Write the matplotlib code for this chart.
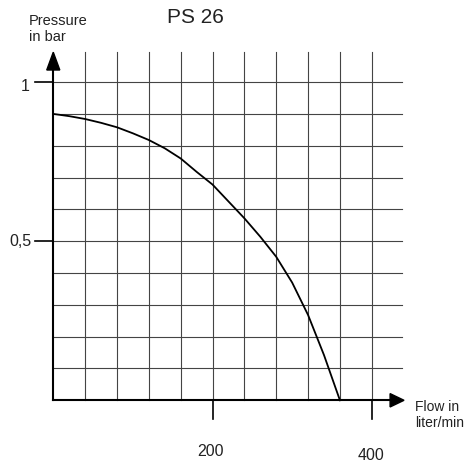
import matplotlib

matplotlib.use("Agg")
import matplotlib.pyplot as plt
from matplotlib.patches import Polygon

# values
flow = [0, 20, 40, 60, 80, 100, 120, 140, 160, 180, 200, 220, 240, 260, 280, 300, 320, 340, 360]
pressure = [0.90, 0.893, 0.884, 0.872, 0.858, 0.839, 0.818, 0.792, 0.760, 0.718, 0.678,
            0.625, 0.572, 0.514, 0.451, 0.370, 0.268, 0.142, 0.0]

grid_x = [40, 80, 120, 160, 200, 240, 280, 320, 360, 400]
grid_y = [0.1, 0.2, 0.3, 0.4, 0.5, 0.6, 0.7, 0.8, 0.9, 1.0]
x_ticks = [200, 400]
x_tick_labels = ["200", "400"]
y_ticks = [1.0, 0.5]
y_tick_labels = ["1", "0,5"]

plt.rcParams["font.family"] = ["Liberation Sans", "DejaVu Sans"]
TEXT = "#222222"

fig = plt.figure(figsize=(4.69, 4.66), dpi=100)
ax = fig.add_axes([0, 0, 1, 1])
ax.set_xlim(-66.9, 522.1)
ax.set_ylim(-0.2065, 1.258)
ax.set_axis_off()

# grid
for gx in grid_x:
    ax.plot([gx, gx], [0, 1.095], color="#444444", lw=0.8, zorder=1)
for gy in grid_y:
    ax.plot([0, 438], [gy, gy], color="#444444", lw=0.8, zorder=1)

# axes with arrow heads
ax.plot([0, 0], [0, 1.045], color="black", lw=1.5, zorder=3)
ax.plot([0, 428], [0, 0], color="black", lw=1.5, zorder=3)
ax.add_patch(Polygon([[-8.2, 1.038], [8.2, 1.038], [0, 1.094]], closed=True,
                     color="black", zorder=4))
ax.add_patch(Polygon([[423, 0.021], [423, -0.021], [440.5, 0]], closed=True,
                     color="black", zorder=4))

# ticks
for xt in x_ticks:
    ax.plot([xt, xt], [0, -0.059], color="black", lw=1.2, zorder=3)
for yt in y_ticks:
    ax.plot([-23, 0], [yt, yt], color="black", lw=1.2, zorder=3)

# curve
ax.plot(flow, pressure, color="black", lw=1.3, zorder=5, solid_joinstyle="round")

# labels
ax.text(198, -0.1625, x_tick_labels[0], ha="center", va="center", fontsize=11.5, color=TEXT)
ax.text(399, -0.172, x_tick_labels[1], ha="center", va="center", fontsize=11.5, color=TEXT)
ax.text(-35.5, 0.985, y_tick_labels[0], ha="center", va="center", fontsize=11.5, color=TEXT)
ax.text(-41.8, 0.4975, y_tick_labels[1], ha="center", va="center", fontsize=11.5, color=TEXT)

ax.text(178, 1.2015, "PS 26", ha="center", va="center", fontsize=15, color=TEXT)
ax.text(-30.5, 1.167, "Pressure\nin bar", ha="left", va="center", fontsize=10.5,
        color=TEXT, linespacing=1.2)
ax.text(454.3, -0.045, "Flow in\nliter/min", ha="left", va="center", fontsize=10,
        color=TEXT, linespacing=1.2)

fig.savefig("out.png", dpi=100, facecolor="white")
plt.close(fig)
